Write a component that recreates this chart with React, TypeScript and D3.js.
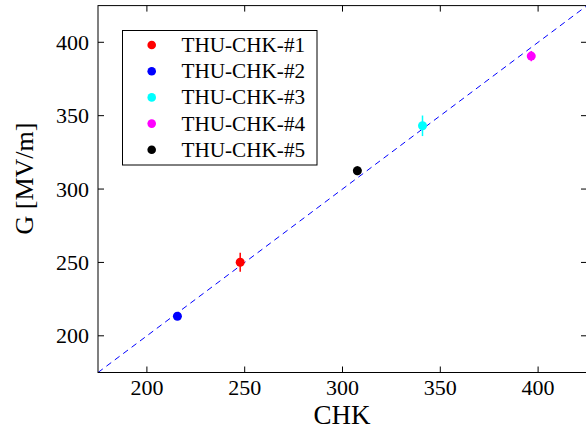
import React from "react";
import * as d3 from "d3";

const names = ["THU-CHK-#1", "THU-CHK-#2", "THU-CHK-#3", "THU-CHK-#4", "THU-CHK-#5"];
const colors = ["#ff0000", "#0000ff", "#00ffff", "#ff00ff", "#000000"];
const chkValues = [247.7, 215.6, 340.9, 396.5, 307.6];
const gValues = [250.1, 213.3, 343.1, 390.6, 312.5];
const gErrors = [6.5, 1.5, 7, 3.5, 3];
const xTicks = [200, 250, 300, 350, 400];
const yTicks = [200, 250, 300, 350, 400];
const domain: [number, number] = [175, 425];

export default function App() {
  const W = 586, H = 431;
  const left = 98, right = 587, top = 5.6, bottom = 372.5;
  const x = d3.scaleLinear().domain(domain).range([left, right]);
  const y = d3.scaleLinear().domain(domain).range([bottom, top]);
  const font = "'Liberation Serif', 'Times New Roman', serif";
  const tickLen = 6;
  const legendX = 122.5, legendY = 30.5, legendW = 194.5, legendH = 134.5;
  const rowH = 26.2;
  return (
    <svg width={W} height={H} style={{ position: "absolute", left: 0, top: 0 }}>
      <rect x={0} y={0} width={W} height={H} fill="#fff" />
      <line
        x1={x(domain[0])} y1={y(domain[0])} x2={x(domain[1])} y2={y(domain[1])}
        stroke="#0000ff" strokeWidth={1} strokeDasharray="6,4.5"
      />
      {chkValues.map((c, i) => (
        <g key={i}>
          <line
            x1={x(c)} x2={x(c)} y1={y(gValues[i] - gErrors[i])} y2={y(gValues[i] + gErrors[i])}
            stroke={colors[i]} strokeWidth={1.5}
          />
          <circle cx={x(c)} cy={y(gValues[i])} r={4.5} fill={colors[i]} />
        </g>
      ))}
      <rect x={left} y={top} width={right - left} height={bottom - top} fill="none" stroke="#000" strokeWidth={1} />
      {xTicks.map((t) => (
        <g key={"x" + t}>
          <line x1={x(t)} x2={x(t)} y1={bottom} y2={bottom - tickLen} stroke="#000" strokeWidth={1} />
          <line x1={x(t)} x2={x(t)} y1={top} y2={top + tickLen} stroke="#000" strokeWidth={1} />
          <text x={x(t)} y={395} textAnchor="middle" fontFamily={font} fontSize={22} fill="#000">{t}</text>
        </g>
      ))}
      {yTicks.map((t) => (
        <g key={"y" + t}>
          <line x1={left} x2={left + tickLen} y1={y(t)} y2={y(t)} stroke="#000" strokeWidth={1} />
          <line x1={right} x2={right - tickLen} y1={y(t)} y2={y(t)} stroke="#000" strokeWidth={1} />
          <text x={89} y={y(t) + 7.5} textAnchor="end" fontFamily={font} fontSize={22} fill="#000">{t}</text>
        </g>
      ))}
      <text x={(left + 586) / 2} y={424} textAnchor="middle" fontFamily={font} fontSize={27} fill="#000">CHK</text>
      <text
        transform={`translate(33,${(122 + 235) / 2}) rotate(-90)`}
        textAnchor="middle" fontFamily={font} fontSize={26} fill="#000"
      >G [MV/m]</text>
      <rect x={legendX} y={legendY} width={legendW} height={legendH} fill="#fff" stroke="#000" strokeWidth={1} />
      {names.map((n, i) => (
        <g key={n}>
          <circle cx={151.7} cy={45 + i * rowH} r={4.3} fill={colors[i]} />
          <text x={181.5} y={45 + i * rowH + 7} fontFamily={font} fontSize={21.2} fill="#000">{n}</text>
        </g>
      ))}
    </svg>
  );
}
